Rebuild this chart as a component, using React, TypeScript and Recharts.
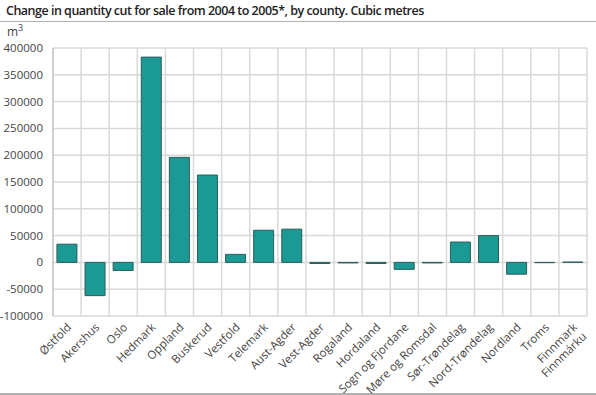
import React from "react"
import { BarChart, Bar, XAxis, YAxis, CartesianGrid } from "recharts"

const counties = [
  "Østfold", "Akershus", "Oslo", "Hedmark", "Oppland", "Buskerud", "Vestfold",
  "Telemark", "Aust-Agder", "Vest-Agder", "Rogaland", "Hordaland",
  "Sogn og Fjordane", "Møre og Romsdal", "Sør-Trøndelag", "Nord-Trøndelag",
  "Nordland", "Troms", "Finnmark\nFinnmárku"
]

const change = [
  34000, -62000, -15000, 383000, 196000, 163000, 15000,
  60000, 62000, -2000, -1000, -2000,
  -13000, -1000, 38000, 50000,
  -22000, -500, 600
]

const yTicks = [-100000, -50000, 0, 50000, 100000, 150000, 200000, 250000, 300000, 350000, 400000]

const data = counties.map((name, i) => ({ name, value: change[i] }))

const font = "'Open Sans', 'DejaVu Sans', sans-serif"

// rotated county labels, second line for Finnmark/Finnmárku
function CountyTick(props: any) {
  const { x, y, payload } = props
  const lines = String(payload.value).split("\n")
  return (
    <g transform={`translate(${x + 5},${y + 12})`}>
      <text transform="rotate(-45)" textAnchor="end" fontSize={11.5} fill="#444" fontFamily={font}>
        {lines.map((l, i) => (
          <tspan key={i} x={0} dy={i === 0 ? 0 : 13}>{l}</tspan>
        ))}
      </text>
    </g>
  )
}

export default function App() {
  return (
    <div style={{ position: "absolute", left: 0, top: 0, width: 596, height: 395, background: "#fff", fontFamily: font }}>
      <div style={{ position: "absolute", left: 6, top: 2, fontSize: 12.5, fontWeight: 600, letterSpacing: -0.5, color: "#222", whiteSpace: "nowrap" }}>
        Change in quantity cut for sale from 2004 to 2005*, by county. Cubic metres
      </div>
      <div style={{ position: "absolute", left: 0, top: 21, width: 596, height: 1, background: "#b0b0b0" }} />
      <div style={{ position: "absolute", left: 7, top: 20, fontSize: 12, color: "#444", lineHeight: "16px" }}>
        m<sup style={{ fontSize: 9 }}>3</sup>
      </div>
      <div style={{ position: "absolute", left: 0, top: 393, width: 596, height: 2, background: "#b0b0b0" }} />
      <BarChart
        width={596}
        height={395}
        data={data}
        margin={{ top: 48, right: 9, bottom: 0, left: 0 }}
        barCategoryGap="14%"
      >
        <CartesianGrid
          stroke="#d9d9d9"
          strokeWidth={1.5}
          verticalCoordinatesGenerator={({ offset }: any) =>
            counties.map((_, i) => offset.left + (i * offset.width) / counties.length).concat(offset.left + offset.width)
          }
        />
        <XAxis
          dataKey="name"
          interval={0}
          height={79}
          tick={<CountyTick />}
          tickSize={0}
          tickMargin={0}
          tickLine={false}
          axisLine={false}
        />
        <YAxis
          width={53}
          domain={[-100000, 400000]}
          ticks={yTicks}
          interval={0}
          tickLine={false}
          axisLine={{ stroke: "#c8c8c8", strokeWidth: 1.5 }}
          tick={{ fontSize: 11.5, fill: "#444", fontFamily: font }}
          tickMargin={4}
        />
        <Bar dataKey="value" fill="#1a9995" stroke="#2d5d5b" strokeWidth={1} isAnimationActive={false} />
      </BarChart>
    </div>
  )
}
